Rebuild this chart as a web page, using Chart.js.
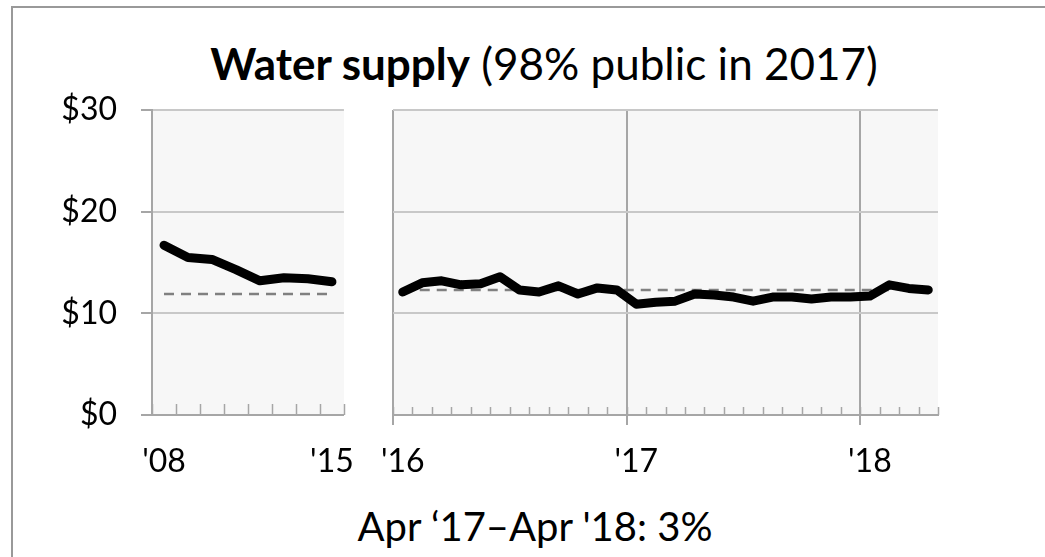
<!DOCTYPE html>
<html>
<head>
<meta charset="utf-8">
<script src="https://cdn.jsdelivr.net/npm/chart.js@4"></script>
<style>
  body { margin:0; width:1045px; height:557px; overflow:hidden; background:#fff; position:relative; font-family: Lato, sans-serif; color:#000; }
  #frame { position:absolute; left:11px; top:6px; width:1100px; height:600px; border:2px solid #999; }
  #title { position:absolute; left:0; width:1088px; top:41px; text-align:center; font-size:44px; line-height:44px; white-space:nowrap; }
  #note { position:absolute; left:0; width:1070px; top:506px; text-align:center; font-size:40px; line-height:40px; white-space:nowrap; }
  .box { position:absolute; top:65px; height:435px; }
  .box canvas { display:block; }
  #leftBox { left:12px; width:360px; }
  #rightBox { left:363px; width:595px; }
</style>
</head>
<body>
<div id="frame"></div>
<div id="title"><b>Water supply</b> (98% public in 2017)</div>
<div class="box" id="leftBox"><canvas id="left" width="360" height="435"></canvas></div>
<div class="box" id="rightBox"><canvas id="right" width="595" height="435"></canvas></div>
<div id="note">Apr ‘17–Apr '18: 3%</div>
<script>
// left panel: annual, right panel: monthly since Jan '16
const yearLabels   = ["'08", "'09", "'10", "'11", "'12", "'13", "'14", "'15"];
const annualPrice  = [16.7, 15.5, 15.3, 14.3, 13.2, 13.5, 13.4, 13.1];
const annualAvg    = [11.9, 11.9, 11.9, 11.9, 11.9, 11.9, 11.9, 11.9];

const monthLabels  = ["Jan '16", "Feb '16", "Mar '16", "Apr '16", "May '16", "Jun '16",
                      "Jul '16", "Aug '16", "Sep '16", "Oct '16", "Nov '16", "Dec '16",
                      "Jan '17", "Feb '17", "Mar '17", "Apr '17", "May '17", "Jun '17",
                      "Jul '17", "Aug '17", "Sep '17", "Oct '17", "Nov '17", "Dec '17",
                      "Jan '18", "Feb '18", "Mar '18", "Apr '18"];
const monthlyPrice = [12.1, 13.0, 13.2, 12.8, 12.9, 13.6, 12.3, 12.1, 12.7, 11.9, 12.5, 12.3,
                      10.9, 11.1, 11.2, 11.9, 11.8, 11.6, 11.2, 11.6, 11.6, 11.4, 11.6, 11.6,
                      11.7, 12.8, 12.45, 12.3];
const monthlyAvg   = [12.3, 12.3, 12.3, 12.3, 12.3, 12.3, 12.3, 12.3, 12.3, 12.3, 12.3, 12.3,
                      12.3, 12.3, 12.3, 12.3, 12.3, 12.3, 12.3, 12.3, 12.3, 12.3, 12.3, 12.3,
                      12.3, 12.3, null, null];

const FONT = "Lato";
const GRID = "#c8c8c8";
const AXIS = "#a6a6a6";

// light plot background
const plotBg = {
  id: "plotBg",
  beforeDraw(chart) {
    const { ctx, chartArea: a } = chart;
    ctx.save();
    ctx.fillStyle = "#f7f7f7";
    ctx.fillRect(a.left, a.top, a.right - a.left, a.bottom - a.top);
    ctx.restore();
  }
};

// small inward tick marks between categories
function minorTicks(len) {
  return {
    id: "minorTicks",
    afterDraw(chart) {
      const { ctx, chartArea: a } = chart;
      const x = chart.scales.x;
      const n = chart.data.labels.length;
      ctx.save();
      ctx.strokeStyle = AXIS;
      ctx.lineWidth = 1.5;
      for (let i = 0; i <= n; i++) {
        const px = Math.round(x.getPixelForValue(i - 0.5)) + 0.5;
        ctx.beginPath();
        ctx.moveTo(px, a.bottom);
        ctx.lineTo(px, a.bottom - len);
        ctx.stroke();
      }
      ctx.restore();
    }
  };
}

function priceSet(data) {
  return { data, borderColor: "#000", borderWidth: 9, pointRadius: 0,
           borderCapStyle: "round", borderJoinStyle: "round" };
}
function avgSet(data) {
  return { data, borderColor: "#808080", borderWidth: 2.5, borderDash: [10, 7], pointRadius: 0 };
}
const tickFont = { family: FONT, size: 32 };
const yGridColor = c => c.tick.value === 0 ? AXIS : GRID;

new Chart(document.getElementById("left"), {
  type: "line",
  data: { labels: yearLabels, datasets: [priceSet(annualPrice), avgSet(annualAvg)] },
  options: {
    responsive: false, animation: false, devicePixelRatio: 1,
    layout: { padding: { top: 45, right: 20, left: 0, bottom: 0 } },
    plugins: { legend: { display: false }, tooltip: { enabled: false } },
    scales: {
      x: {
        offset: true,
        grid: { display: false, drawTicks: true, tickLength: 10 },
        border: { display: true, color: AXIS, width: 2 },
        ticks: { autoSkip: false, maxRotation: 0, padding: 17, color: "#000", font: tickFont,
                 callback: (v, i) => (i === 0 || i === yearLabels.length - 1) ? yearLabels[i] : "" },
        afterFit: s => { s.height = 85; }
      },
      y: {
        min: 0, max: 30,
        ticks: { stepSize: 10, padding: 24, color: "#000", font: tickFont, callback: v => "$" + v },
        grid: { color: yGridColor, lineWidth: 2, tickLength: 11, tickColor: AXIS, tickWidth: 2 },
        border: { display: true, color: AXIS, width: 2 },
        afterFit: s => { s.width = 140; }
      }
    }
  },
  plugins: [plotBg, minorTicks(11)]
});

new Chart(document.getElementById("right"), {
  type: "line",
  data: { labels: monthLabels, datasets: [priceSet(monthlyPrice), avgSet(monthlyAvg)] },
  options: {
    responsive: false, animation: false, devicePixelRatio: 1,
    layout: { padding: { top: 45, right: 20, left: 30, bottom: 0 } },
    plugins: { legend: { display: false }, tooltip: { enabled: false } },
    scales: {
      x: {
        offset: true,
        grid: { offset: true, color: c => c.index % 12 === 0 ? AXIS : "rgba(0,0,0,0)",
                lineWidth: 2, tickLength: 10 },
        border: { display: true, color: AXIS, width: 2 },
        ticks: { autoSkip: false, maxRotation: 0, padding: 17, color: "#000", font: tickFont,
                 callback: (v, i) => monthLabels[i].startsWith("Jan") ? "'" + monthLabels[i].slice(-2) : "" },
        afterFit: s => { s.height = 85; }
      },
      y: {
        min: 0, max: 30,
        ticks: { display: false, stepSize: 10 },
        grid: { color: yGridColor, lineWidth: 2, drawTicks: false },
        border: { display: false },
        afterFit: s => { s.width = 0; }
      }
    }
  },
  plugins: [plotBg, minorTicks(8)]
});
</script>
</body>
</html>
